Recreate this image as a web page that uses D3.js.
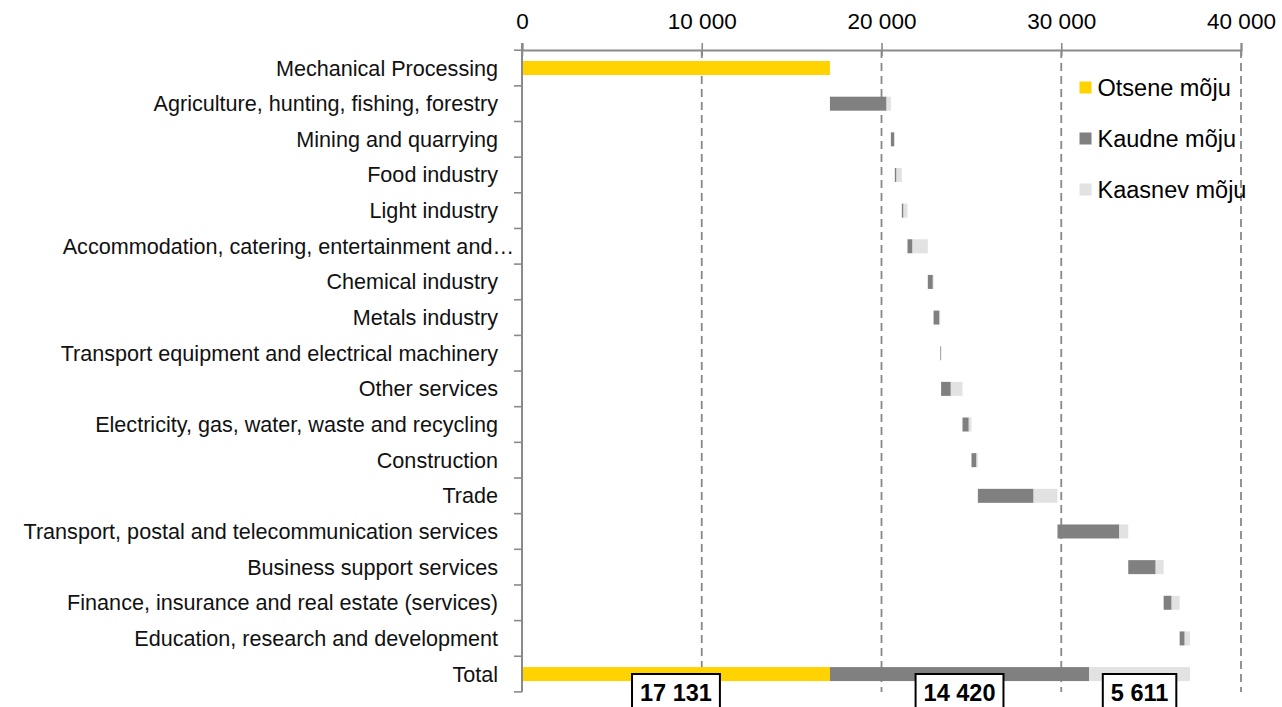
<!DOCTYPE html>
<html>
<head>
<meta charset="utf-8">
<script src="https://cdn.jsdelivr.net/npm/d3@7"></script>
<style>
  html, body { margin: 0; padding: 0; background: #fff; }
  svg { display: block; font-family: "Liberation Sans", Arial, sans-serif; }
</style>
</head>
<body>
<svg id="chart" width="1282" height="707"></svg>
<script>
const categories = [
  "Mechanical Processing",
  "Agriculture, hunting, fishing, forestry",
  "Mining and quarrying",
  "Food industry",
  "Light industry",
  "Accommodation, catering, entertainment and…",
  "Chemical industry",
  "Metals industry",
  "Transport equipment and electrical machinery",
  "Other services",
  "Electricity, gas, water, waste and recycling",
  "Construction",
  "Trade",
  "Transport, postal and telecommunication services",
  "Business support services",
  "Finance, insurance and real estate (services)",
  "Education, research and development"
];
const totalLabel = "Total";
const direct   = [17131, 0, 0, 0, 0, 0, 0, 0, 0, 0, 0, 0, 0, 0, 0, 0, 0];
const indirect = [0, 3150, 190, 95, 95, 280, 280, 330, 40, 540, 350, 280, 3100, 3440, 1525, 445, 280];
const induced  = [0, 240, 30, 295, 220, 850, 40, 30, 20, 650, 150, 75, 1330, 496, 445, 445, 295];
const seriesNames = ["Otsene mõju", "Kaudne mõju", "Kaasnev mõju"];
const tickValues = [0, 10000, 20000, 30000, 40000];
const colors = ["#FFD200", "#808080", "#E2E2E2"];

const svg = d3.select("#chart");
const fmt = d3.formatLocale({decimal: ",", thousands: " ", grouping: [3], currency: ["", ""]}).format(",.0f");

const allCats = categories.concat([totalLabel]);
const x = d3.scaleLinear().domain([0, 40000]).range([522, 1241]);
const y = d3.scaleBand().domain(allCats).range([50.2, 691.9]).padding(0);
const barH = 14;

// gridlines
svg.append("g").selectAll("line").data(tickValues.filter(d => d > 0)).join("line")
  .attr("x1", d => x(d)).attr("x2", d => x(d))
  .attr("y1", 50).attr("y2", 692)
  .attr("stroke", "#888").attr("stroke-width", 1.8)
  .attr("stroke-dasharray", "8,5");

// build segments (waterfall)
const segs = [];
let cum = 0;
categories.forEach((c, i) => {
  [direct[i], indirect[i], induced[i]].forEach((v, k) => {
    if (v > 0) segs.push({cat: c, x0: cum, x1: cum + v, k});
    cum += v;
  });
});
const totals = [d3.sum(direct), d3.sum(indirect), d3.sum(induced)];
let tc = 0;
const totalSegs = totals.map((v, k) => { const s = {cat: totalLabel, x0: tc, x1: tc + v, k, v}; tc += v; return s; });

svg.append("g").selectAll("rect").data(segs.concat(totalSegs)).join("rect")
  .attr("x", d => x(d.x0))
  .attr("width", d => Math.max(0.8, x(d.x1) - x(d.x0)))
  .attr("y", d => y(d.cat) + y.bandwidth() / 2 - barH / 2)
  .attr("height", barH)
  .attr("fill", d => colors[d.k]);

// top axis
const axTop = d3.axisTop(x).tickValues(tickValues).tickFormat(fmt).tickSize(7).tickPadding(14.5);
const gTop = svg.append("g").attr("transform", "translate(0,50)").call(axTop);
gTop.select(".domain").attr("stroke", "#8a8a8a").attr("stroke-width", 2);
gTop.selectAll(".tick line").attr("stroke", "#8a8a8a").attr("stroke-width", 1.6).attr("y2", -7).attr("y1", 6);
gTop.selectAll(".tick text").attr("font-size", 22.5).attr("fill", "#000")
  .attr("font-family", "Liberation Sans, Arial, sans-serif");

// left axis (custom: line + boundary ticks)
const gLeft = svg.append("g");
gLeft.append("line").attr("x1", 522).attr("x2", 522).attr("y1", 43).attr("y2", 691.9)
  .attr("stroke", "#8a8a8a").attr("stroke-width", 2);
const bounds = allCats.map(c => y(c)).concat([y(totalLabel) + y.bandwidth()]);
gLeft.selectAll("line.tk").data(bounds).join("line").attr("class", "tk")
  .attr("x1", 514).attr("x2", 522).attr("y1", d => d).attr("y2", d => d)
  .attr("stroke", "#8a8a8a").attr("stroke-width", 1.6);
gLeft.selectAll("text").data(allCats).join("text")
  .attr("x", d => d.endsWith("…") ? 514 : 498)
  .attr("y", d => y(d) + y.bandwidth() / 2 + 7.5)
  .attr("text-anchor", "end")
  .attr("font-size", 21.6)
  .attr("fill", "#111")
  .text(d => d);

// total labels
const lg = svg.append("g").selectAll("g").data(totalSegs).join("g");
lg.each(function(d) {
  const g = d3.select(this);
  const cx = (x(d.x0) + x(d.x1)) / 2;
  const rect = g.append("rect");
  const t = g.append("text").attr("x", cx).attr("y", 701)
    .attr("text-anchor", "middle").attr("font-size", 23.5).attr("font-weight", "bold")
    .attr("fill", "#000").text(fmt(d.v));
  const w = t.node().getComputedTextLength() + 16;
  rect.attr("x", cx - w / 2).attr("y", 674).attr("width", w).attr("height", 45)
    .attr("fill", "#fff").attr("stroke", "#000").attr("stroke-width", 2);
});

// legend
const leg = svg.append("g").selectAll("g").data(seriesNames).join("g")
  .attr("transform", (d, i) => `translate(1079.5,${87.5 + i * 51})`);
leg.append("rect").attr("x", 0).attr("y", -6).attr("width", 12).attr("height", 12)
  .attr("fill", (d, i) => colors[i]);
leg.append("text").attr("x", 18).attr("y", 8.5).attr("font-size", 23.5).attr("fill", "#000").text(d => d);
</script>
</body>
</html>
